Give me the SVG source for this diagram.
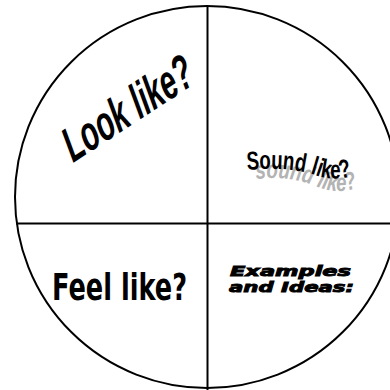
<svg xmlns="http://www.w3.org/2000/svg" width="390" height="390" viewBox="0 0 390 390">
<style>
.ln{stroke:#000;stroke-width:2;fill:none}
.t{fill:#000}
</style>
<defs>
<path id="pSound" d="M247,170 Q290,166 318,176 Q335,181 352,176 L380,170"/>
<path id="pShadow" d="M256,179 Q290,175 318,187 Q340,195 358,187 L390,177"/>
</defs>
<rect width="390" height="390" fill="#fff"/>
<g id="connectors">
<ellipse class="ln" cx="207" cy="197" rx="192" ry="191"/>
<line class="ln" x1="207.5" y1="6" x2="207.5" y2="390"/>
<line class="ln" x1="16" y1="223.5" x2="390" y2="223.5"/>
</g>
<g id="look">
<text class="t" transform="translate(73,163) rotate(-33) skewX(-6)" font-family="Liberation Sans, Arial, sans-serif" font-weight="bold" font-style="italic" font-size="48" textLength="148" lengthAdjust="spacingAndGlyphs">Look like?</text>
</g>
<g id="sound">
<text fill="#b3b3b3" font-family="Liberation Sans Narrow, Liberation Sans, sans-serif" font-weight="bold" font-style="italic" font-size="25"><textPath href="#pShadow" textLength="104" lengthAdjust="spacingAndGlyphs">sound like?</textPath></text>
<text class="t" font-family="Liberation Sans Narrow, Liberation Sans, sans-serif" font-weight="bold" font-size="26"><textPath href="#pSound" textLength="106" lengthAdjust="spacingAndGlyphs">Sound like?</textPath></text>
</g>
<g id="feel">
<text class="t" x="52" y="300" font-family="DejaVu Sans, sans-serif" font-weight="bold" font-size="38" textLength="135" lengthAdjust="spacingAndGlyphs">Feel like?</text>
</g>
<g id="examples">
<text class="t" stroke="#000" stroke-width="0.9" font-family="DejaVu Sans, sans-serif" font-weight="bold" font-style="italic" font-size="14">
<tspan x="230" y="276" textLength="121" lengthAdjust="spacingAndGlyphs">Examples</tspan>
<tspan x="229" y="292" textLength="125" lengthAdjust="spacingAndGlyphs">and Ideas:</tspan>
</text>
</g>
</svg>
